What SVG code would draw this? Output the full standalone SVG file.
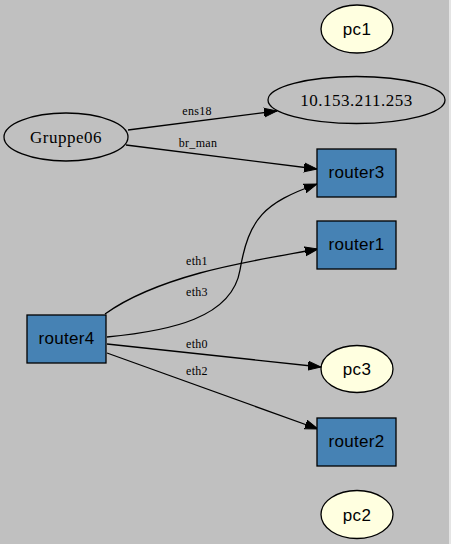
<svg xmlns="http://www.w3.org/2000/svg" width="451" height="544" viewBox="0 0 451 544">
<style>
.bg{fill:#c0c0c0}
.edge{fill:none;stroke:#000;stroke-width:1.3}
.elabel{font-family:"Liberation Serif",serif;font-size:12px;fill:#000;text-anchor:middle;letter-spacing:0.3px}
.router rect{fill:#4682b4;stroke:#000;stroke-width:1.3}
.pc ellipse{fill:#ffffe0;stroke:#000;stroke-width:1.3}
.plain ellipse{fill:none;stroke:#000;stroke-width:1.3}
.sans{font-family:"Liberation Sans",Arial,sans-serif;font-size:17px;fill:#000;text-anchor:middle;letter-spacing:0.3px}
.serif{font-family:"Liberation Serif",serif;font-size:17px;fill:#000;text-anchor:middle;letter-spacing:0.5px}
</style>
<defs>
<marker id="arr" markerUnits="userSpaceOnUse" markerWidth="14" markerHeight="11" refX="13" refY="4.5" orient="auto" viewBox="0 0 14 9">
<path d="M0,0 L13,4.5 L0,9 Z" fill="#000" stroke="#000" stroke-width="1"/>
</marker>
</defs>
<rect class="bg" x="0" y="0" width="449" height="544"/>
<rect x="449" y="0" width="2" height="544" fill="#e4e4e4"/>

<g id="connectors">
<path class="edge" d="M128,130 L277,111" marker-end="url(#arr)"/>
<text class="elabel" x="197" y="115">ens18</text>
<path class="edge" d="M126,145 L317,169" marker-end="url(#arr)"/>
<text class="elabel" x="198" y="147">br_man</text>
<path class="edge" d="M105,314 C130,296 160,284 200,273 C240,262 280,256 318,249" marker-end="url(#arr)"/>
<text class="elabel" x="197" y="265">eth1</text>
<path class="edge" d="M107,337 C170,331 232,318 240,270 C249,218 264,203 317,184" marker-end="url(#arr)"/>
<text class="elabel" x="197" y="296">eth3</text>
<path class="edge" d="M107,344 L321,367" marker-end="url(#arr)"/>
<text class="elabel" x="197" y="348">eth0</text>
<path class="edge" d="M107,353 L318,429" marker-end="url(#arr)"/>
<text class="elabel" x="197" y="375">eth2</text>
</g>

<g id="pc1" class="pc">
<ellipse cx="357" cy="29" rx="36" ry="24"/>
<text class="sans" x="357" y="35">pc1</text>
</g>
<g id="ip" class="plain">
<ellipse cx="356.5" cy="100" rx="88.5" ry="23.5"/>
<text class="serif" x="356.5" y="106">10.153.211.253</text>
</g>
<g id="Gruppe06" class="plain">
<ellipse cx="66" cy="137" rx="62" ry="24"/>
<text class="serif" x="66" y="142.5">Gruppe06</text>
</g>
<g id="router3" class="router">
<rect x="317" y="149" width="79" height="48"/>
<text class="sans" x="356.5" y="178">router3</text>
</g>
<g id="router1" class="router">
<rect x="317" y="221" width="79" height="48"/>
<text class="sans" x="356.5" y="250">router1</text>
</g>
<g id="router4" class="router">
<rect x="27" y="315" width="79" height="48"/>
<text class="sans" x="66.5" y="344">router4</text>
</g>
<g id="pc3" class="pc">
<ellipse cx="357" cy="369" rx="36" ry="23.5"/>
<text class="sans" x="357" y="375">pc3</text>
</g>
<g id="router2" class="router">
<rect x="317" y="418" width="79" height="48"/>
<text class="sans" x="356.5" y="447">router2</text>
</g>
<g id="pc2" class="pc">
<ellipse cx="357" cy="514.5" rx="36" ry="24"/>
<text class="sans" x="357" y="520.5">pc2</text>
</g>
</svg>
